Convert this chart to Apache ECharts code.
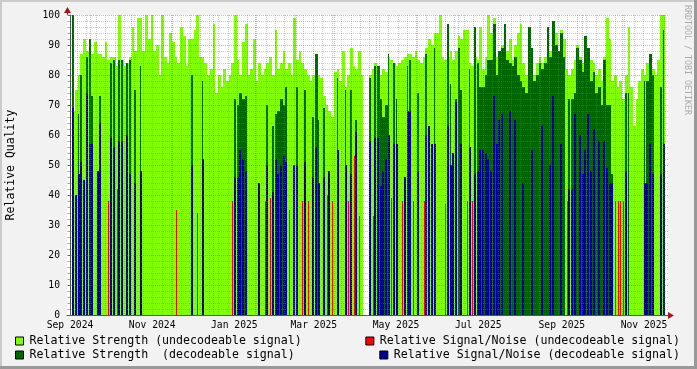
<!DOCTYPE html>
<html>
<head>
<meta charset="utf-8">
<script src="https://cdn.jsdelivr.net/npm/echarts@6/dist/echarts.min.js"></script>
<style>
html,body{margin:0;padding:0;background:#f2f2f2;}
#c{width:697px;height:369px;}
</style>
</head>
<body>
<div id="c"></div>
<script>
const _ = null;
// one bin = 2 days; bin 0 starts 2.2 days before 2024-09-01
const BIN_DAYS = 2;
const FIRST_BIN_DAY = -2.2;
const AXIS_MIN = -2.2, AXIS_MAX = 443.8;

const strengthUndecodeable = [
 _, _, 68, 75, 80, 87, 92, 88, 88, 87,
 91, 87, 87, 86, 91, 85, 86, 86, 83, 100,
 85, 83, 84, 86, 96, 88, 99, 99, 88, 100,
 92, 100, 88, 90, 80, 100, 86, 84, 94, 91,
 86, 84, 96, 93, 83, 92, 92, 95, 100, 86,
 86, 84, 80, 82, 97, 74, 80, 76, 82, 78,
 80, 84, 100, 85, 80, 91, 97, 80, 82, 92,
 78, 84, 80, 82, 84, 86, 80, 95, 82, 84,
 88, 82, 84, 80, 99, 85, 88, 84, 82, 80,
 78, 80, 87, 80, 79, 73, 70, 68, 66, 81,
 82, 78, 88, 76, 80, 89, 83, 82, 88, 80,
 _, _, 80, 82, 84, 83, 80, 82, 81, 86,
 85, 84, 83, 84, 85, 86, 87, 87, 86, 88,
 85, 84, 86, 89, 92, 90, 94, 94, 100, 86,
 85, 86, 88, 85, 88, 93, 92, 95, 95, 84,
 83, 86, 85, 96, 82, 86, 100, 94, 99, 86,
 85, 90, 86, 88, 92, 85, 90, 94, 97, 84,
 80, 85, 82, 80, 84, 86, 84, 86, 90, 88,
 89, 94, 86, 95, 92, 82, 80, 82, 85, 90,
 86, 84, 82, 88, 85, 84, 80, 82, 78, 86,
 99, 92, 78, 80, 76, 78, 72, 80, 96, 76,
 63, 72, 78, 82, 80, 84, 85, 82, 80, 85,
 100, 100, _
];

const snrUndecodeable = [
 _, _, _, _, _, _, _, _, _, _,
 _, _, _, _, _, 38, _, _, 42, _,
 _, _, _, _, _, _, _, _, _, _,
 _, _, _, _, _, _, _, _, _, _,
 35, _, _, _, _, _, _, _, 34, _,
 _, _, _, _, _, _, _, _, _, _,
 _, 38, _, _, _, _, _, _, _, _,
 _, _, _, 38, _, 39, _, _, _, _,
 _, _, 35, _, _, _, _, 38, _, 38,
 _, _, _, _, _, _, 40, _, 38, _,
 _, _, _, _, 38, _, 53, _, 33, _,
 _, _, _, 33, _, _, _, _, _, _,
 39, _, _, _, 38, _, _, _, 38, _,
 _, _, 38, _, _, _, _, _, _, _,
 37, _, _, _, _, _, _, _, 38, _,
 38, _, _, _, _, _, _, _, _, _,
 _, _, _, _, _, _, _, _, _, _,
 _, _, _, _, _, _, _, _, _, _,
 _, _, _, _, _, 38, _, _, _, _,
 _, _, _, _, _, _, _, _, _, _,
 _, _, _, 38, 38, 38, 38, _, _, _,
 _, _, _, _, _, _, _, _, _, _,
 _, _, _
];

const strengthDecodeable = [
 _, _, 100, _, 67, 80, _, 86, 92, 73,
 _, _, 73, _, _, _, 84, 85, _, 85,
 85, _, 84, 85, _, 75, _, 83, _, _,
 _, _, _, _, _, _, _, _, _, _,
 _, _, _, _, _, _, 80, _, _, _,
 78, _, _, _, _, _, _, _, _, _,
 _, _, 72, 70, 74, 72, 73, _, _, _,
 _, _, _, _, 70, _, 63, 67, 68, 72,
 70, 76, _, _, _, 76, _, _, 75, _,
 _, 66, 87, 65, _, 69, _, _, _, _,
 79, _, _, 75, _, 75, _, 65, _, _,
 _, _, 79, _, 83, 83, 72, 66, 70, 87,
 _, 84, 72, _, _, _, 83, 85, _, _,
 74, _, _, 87, _, _, 89, _, _, _,
 _, 97, 77, _, 72, 89, 75, _, _, 82,
 _, 96, 84, 76, 76, 80, 85, 85, 97, 80,
 88, 89, 97, 85, 84, 83, 86, 80, 78, 76,
 74, 96, 89, 78, 80, 84, 82, 84, 96, 86,
 98, 90, 88, 94, 86, _, 72, 72, 74, 89,
 85, 81, 93, 89, 78, 81, 74, 76, 70, 85,
 70, 70, 47, _, _, _, _, 74, 74, _,
 _, _, _, _, 78, 78, 87, 80, _, _,
 76, 95, _
];

const snrDecodeable = [
 _, _, 69, 40, 47, 51, 45, 74, 57, 57,
 _, 48, 64, _, _, _, 59, 56, _, 58,
 58, _, 60, 47, _, 44, _, 48, _, _,
 _, _, _, _, _, _, _, _, _, _,
 _, _, _, _, _, _, 50, _, _, _,
 52, _, _, _, _, _, _, _, _, _,
 _, _, 46, 46, 55, 52, 48, _, _, _,
 _, 44, _, _, 50, _, 41, 52, 47, 50,
 53, 51, _, _, 50, 50, _, _, 51, _,
 _, 46, 56, 44, _, 46, _, 48, _, _,
 55, _, _, 50, _, 47, _, 61, _, _,
 _, _, 58, _, 59, 59, 43, 48, 52, 60,
 _, 57, 57, _, _, 46, 68, 68, _, _,
 48, _, _, 60, 63, 57, 57, _, _, _,
 _, 63, 50, 54, 71, _, 57, _, _, 56,
 _, 47, 48, 55, 55, 54, 52, 48, 73, 57,
 65, 67, _, _, 68, _, 65, _, _, 44,
 _, _, 55, _, _, _, 63, _, _, 50,
 73, _, _, 57, _, _, 42, 42, 67, _,
 60, 47, 55, 67, 48, 62, _, 58, _, 58,
 49, 44, 44, _, _, _, _, 48, _, _,
 _, _, _, _, 44, 44, 57, 47, _, _,
 47, 57, _
];

const tickDates  = ['2024-09-01','2024-11-01','2025-01-01','2025-03-01','2025-05-01','2025-07-01','2025-09-01','2025-11-01'];
const tickLabels = ['Sep 2024','Nov 2024','Jan 2025','Mar 2025','May 2025','Jul 2025','Sep 2025','Nov 2025'];

const seriesNames = [
  'Relative Strength (undecodeable signal)',
  'Relative Signal/Noise (undecodeable signal)',
  'Relative Strength  (decodeable signal)',
  'Relative Signal/Noise (decodeable signal)'
];
const seriesColors = ['#7fff00', '#ff0000', '#006600', '#000099'];

const FONT = 'DejaVu Sans Mono';
const DAY0 = Date.UTC(2024, 8, 1);
const dayOf = s => (Date.parse(s + 'T00:00:00Z') - DAY0) / 864e5;
const tickDays = tickDates.map(dayOf);

// vertical grid: major on the 16th of each month, minor weekly
const majorGridDays = [];
for (let m = 8; m <= 22; m++) majorGridDays.push((Date.UTC(2024, m, 16) - DAY0) / 864e5);
const minorGridDays = [];
for (let d = 5.2; d <= AXIS_MAX; d += 7) minorGridDays.push(d);

// mode: 'full' = whole bin, 'line' = 1px, 'narrow' = bin minus 1px (min 2px),
// 'run' = whole bin inside a run of filled bins, narrower at run edges / isolated
function barSeries(idx, values, mode) {
  const color = seriesColors[idx];
  const data = [];
  values.forEach((v, i) => { if (v !== null) data.push([FIRST_BIN_DAY + BIN_DAYS * i, v]); });
  return {
    type: 'custom', name: seriesNames[idx], data,
    encode: { x: 0, y: 1 }, itemStyle: { color },
    silent: true, animation: false, clip: true, z: 2,
    renderItem(params, api) {
      const s = api.value(0), v = api.value(1);
      const i = Math.round((s - FIRST_BIN_DAY) / BIN_DAYS);
      const a = api.coord([s, v]), b = api.coord([s + BIN_DAYS, 0]);
      let x0 = Math.round(a[0]);
      const full = Math.round(b[0]) - x0;
      let w = full;
      if (mode === 'line') { w = 1; x0 += Math.floor(full / 2); }
      else if (mode === 'narrow') { w = full >= 3 ? full - 1 : full; }
      else if (mode === 'run') {
        const inside = values[i - 1] != null && values[i + 1] != null;
        w = inside ? full : Math.max(1, Math.round(full * 0.6));
      }
      const y0 = Math.round(a[1]), y1 = Math.round(b[1]);
      return { type: 'rect', shape: { x: x0, y: y0, width: w, height: y1 - y0 }, style: { fill: color } };
    }
  };
}

function gridSeries(days, color) {
  return {
    type: 'custom', data: days.map(d => [d, 0]), encode: { x: 0, y: 1 },
    silent: true, animation: false, clip: true, z: 10,
    renderItem(params, api) {
      const d = api.value(0);
      const p = api.coord([d, 0]), q = api.coord([d, 100]);
      const x = Math.round(p[0]) + 0.5;
      return { type: 'line', shape: { x1: x, y1: q[1], x2: x, y2: p[1] },
               style: { stroke: color, lineWidth: 1, lineDash: [1, 1] } };
    }
  };
}

function legendFor(idx, pos) {
  return Object.assign({
    data: [seriesNames[idx]], orient: 'horizontal', icon: 'rect',
    itemWidth: 8, itemHeight: 8, padding: 0, selectedMode: false,
    itemStyle: { borderColor: '#000', borderWidth: 1 },
    textStyle: { fontFamily: FONT, fontSize: 11.6, color: '#000', padding: [0, 0, 0, 1] }
  }, pos);
}

const chart = echarts.init(document.getElementById('c'), null, { renderer: 'canvas' });
chart.setOption({
  backgroundColor: '#f2f2f2',
  animation: false,
  grid: { left: 67, top: 15, width: 601, height: 300, show: true, backgroundColor: '#ffffff', borderWidth: 0 },
  xAxis: {
    type: 'value', min: AXIS_MIN, max: AXIS_MAX, z: 10,
    axisLine: { show: true, lineStyle: { color: '#555', width: 1 } },
    axisTick: { show: false },
    splitLine: { show: false },
    axisLabel: {
      customValues: tickDays,
      formatter: v => { const k = tickDays.indexOf(v); return k >= 0 ? tickLabels[k] : ''; },
      fontFamily: FONT, fontSize: 9.7, color: '#000', margin: 5
    }
  },
  yAxis: {
    type: 'value', min: 0, max: 100, interval: 10, z: 10,
    axisLine: { show: true, lineStyle: { color: '#555', width: 1 } },
    axisTick: { show: true, length: 2, lineStyle: { color: '#c04040' } },
    minorTick: { show: true, splitNumber: 5, length: 2, lineStyle: { color: '#aaa' } },
    splitLine: { show: true, lineStyle: { color: 'rgba(200,70,70,0.45)', type: [1, 1] } },
    minorSplitLine: { show: true, lineStyle: { color: 'rgba(120,120,120,0.38)', type: [1, 1] } },
    axisLabel: { fontFamily: FONT, fontSize: 9.7, color: '#000', margin: 7 }
  },
  legend: [
    legendFor(0, { left: 15, top: 335 }),
    legendFor(1, { right: 17, top: 335 }),
    legendFor(2, { left: 15, top: 349 }),
    legendFor(3, { right: 17, top: 349 })
  ],
  series: [
    barSeries(0, strengthUndecodeable, 'full'),
    barSeries(1, snrUndecodeable, 'line'),
    barSeries(2, strengthDecodeable, 'run'),
    barSeries(3, snrDecodeable, 'narrow'),
    gridSeries(minorGridDays, 'rgba(120,120,120,0.38)'),
    gridSeries(majorGridDays, 'rgba(200,70,70,0.45)')
  ],
  graphic: [
    { type: 'rect', left: 0, top: 0, shape: { width: 697, height: 2 }, style: { fill: '#cbcbcb' }, silent: true },
    { type: 'rect', left: 0, top: 0, shape: { width: 2, height: 369 }, style: { fill: '#cbcbcb' }, silent: true },
    { type: 'rect', left: 694, top: 0, shape: { width: 3, height: 369 }, style: { fill: '#999999' }, silent: true },
    { type: 'rect', left: 0, top: 366, shape: { width: 697, height: 3 }, style: { fill: '#999999' }, silent: true },
    { type: 'line', shape: { x1: 67.5, y1: 15, x2: 67.5, y2: 11 }, style: { stroke: '#555', lineWidth: 1 }, silent: true },
    { type: 'polygon', shape: { points: [[64, 13], [71, 13], [67.5, 7]] }, style: { fill: '#a01818' }, silent: true },
    { type: 'polygon', shape: { points: [[668, 312], [668, 319], [674, 315.5]] }, style: { fill: '#a01818' }, silent: true },
    { type: 'text', x: 11, y: 165, rotation: Math.PI / 2,
      style: { text: 'Relative Quality', font: '11.5px "DejaVu Sans Mono"', fill: '#000', align: 'center', verticalAlign: 'middle' }, silent: true },
    { type: 'text', x: 687, y: 60, rotation: -Math.PI / 2,
      style: { text: 'RRDTOOL / TOBI OETIKER', font: '8.3px "DejaVu Sans Mono"', fill: '#aaaaaa', align: 'center', verticalAlign: 'middle' }, silent: true }
  ]
});
</script>
</body>
</html>
